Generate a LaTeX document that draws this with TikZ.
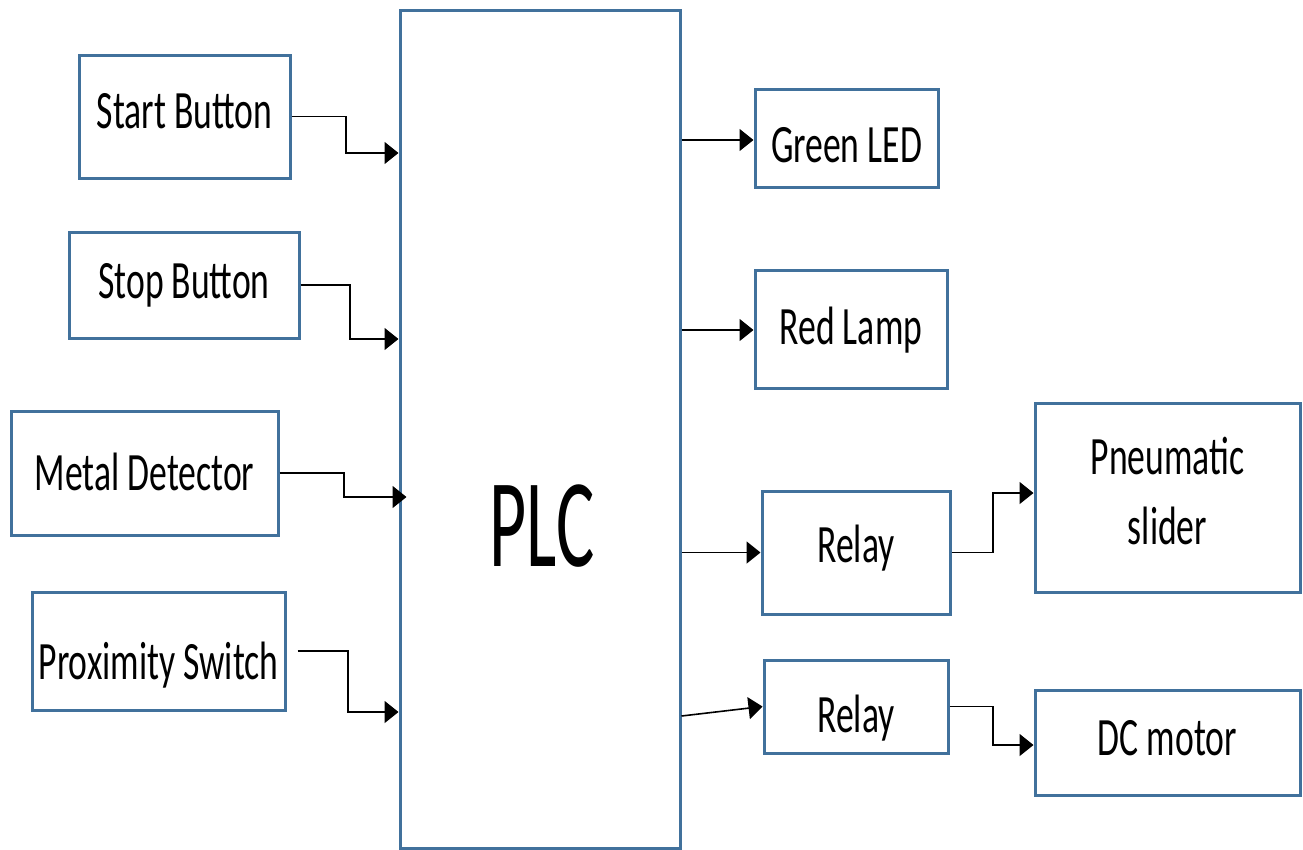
\documentclass[tikz,border=0pt]{standalone}
\usepackage{fontspec}
\setmainfont{Carlito}
\newfontfamily\lblfont{Carlito}[FakeStretch=0.66]
\newfontfamily\plcfont{Carlito}[FakeStretch=0.57]
\usetikzlibrary{arrows.meta}
\definecolor{boxblue}{RGB}{65,113,156}
\tikzset{
  blk/.style={draw=boxblue, line width=3pt, fill=white, inner sep=0pt},
  lbl/.style={inner sep=0pt, text height=35pt, text depth=0pt,
    font=\lblfont\fontsize{54}{66}\selectfont},
  plclbl/.style={inner sep=0pt, text height=81pt, text depth=0pt,
    font=\plcfont\fontsize{126}{130}\selectfont},
  arr/.style={draw=black, line width=1.6pt, -{Triangle[length=14pt,width=22pt]}},
}
\begin{document}
\begin{tikzpicture}[x=1pt,y=-1pt]
\useasboundingbox[fill=white] (0,0) rectangle (1303,849);
% PLC
\node[blk, minimum width=280pt, minimum height=838pt,
  label={[plclbl, yshift=-96.5pt, xshift=2pt]center:PLC}] (plc) at (540,429) {};
% inputs
\node[blk, minimum width=211pt, minimum height=123pt,
  label={[lbl, yshift=6pt]center:Start Button}] (start) at (184.5,116.5) {};
\node[blk, minimum width=230pt, minimum height=106pt,
  label={[lbl, yshift=4pt]center:Stop Button}] (stop) at (184,285) {};
\node[blk, minimum width=267pt, minimum height=124pt,
  label={[lbl]center:Metal Detector}] (metal) at (144.5,473) {};
\node[blk, minimum width=253pt, minimum height=118pt,
  label={[lbl, yshift=-11pt]center:Proximity Switch}] (prox) at (158.5,651) {};
% outputs
\node[blk, minimum width=183pt, minimum height=98pt,
  label={[lbl, yshift=-6.5pt]center:Green LED}] (green) at (846.5,138) {};
\node[blk, minimum width=192pt, minimum height=118pt,
  label={[lbl, yshift=2pt]center:Red Lamp}] (red) at (851,329) {};
\node[blk, minimum width=188pt, minimum height=123pt,
  label={[lbl, yshift=7.5pt]center:Relay}] (relayA) at (856,552.5) {};
\node[blk, minimum width=184pt, minimum height=93pt,
  label={[lbl, yshift=-8pt]center:Relay}] (relayB) at (856,706.5) {};
\node[blk, minimum width=265pt, minimum height=189pt,
  label={[lbl, yshift=41pt]center:Pneumatic},
  label={[lbl, yshift=-29pt]center:slider}] (pneu) at (1167.5,497.5) {};
\node[blk, minimum width=265pt, minimum height=105pt,
  label={[lbl, yshift=4.5pt]center:DC motor}] (dc) at (1167.5,742.5) {};
% input connectors
\draw[arr] (start.east) -- (346,116.5) |- (plc.west |- 0,153);
\draw[arr] (stop.east) -- (350,285) |- (plc.west |- 0,339);
\draw[arr] (metal.east) -- (344,473) |- ([xshift=8pt]plc.west |- 0,497);
\coordinate (proxout) at ([xshift=11pt]prox.east);
\draw[arr] (proxout) -- (348,651) |- (plc.west |- 0,712);
% output connectors
\draw[arr] (plc.east |- 0,140) -- (green.west |- 0,140);
\draw[arr] (plc.east |- 0,330) -- (red.west |- 0,330);
\draw[arr] (plc.east |- relayA.west) -- (relayA.west);
\draw[arr] (plc.east |- 0,716) -- (relayB.west);
\draw[arr] (relayA.east) -- (993,552.5) |- (pneu.west |- 0,493);
\draw[arr] (relayB.east) -- (993,706.5) |- (dc.west |- 0,745);
\end{tikzpicture}
\end{document}
